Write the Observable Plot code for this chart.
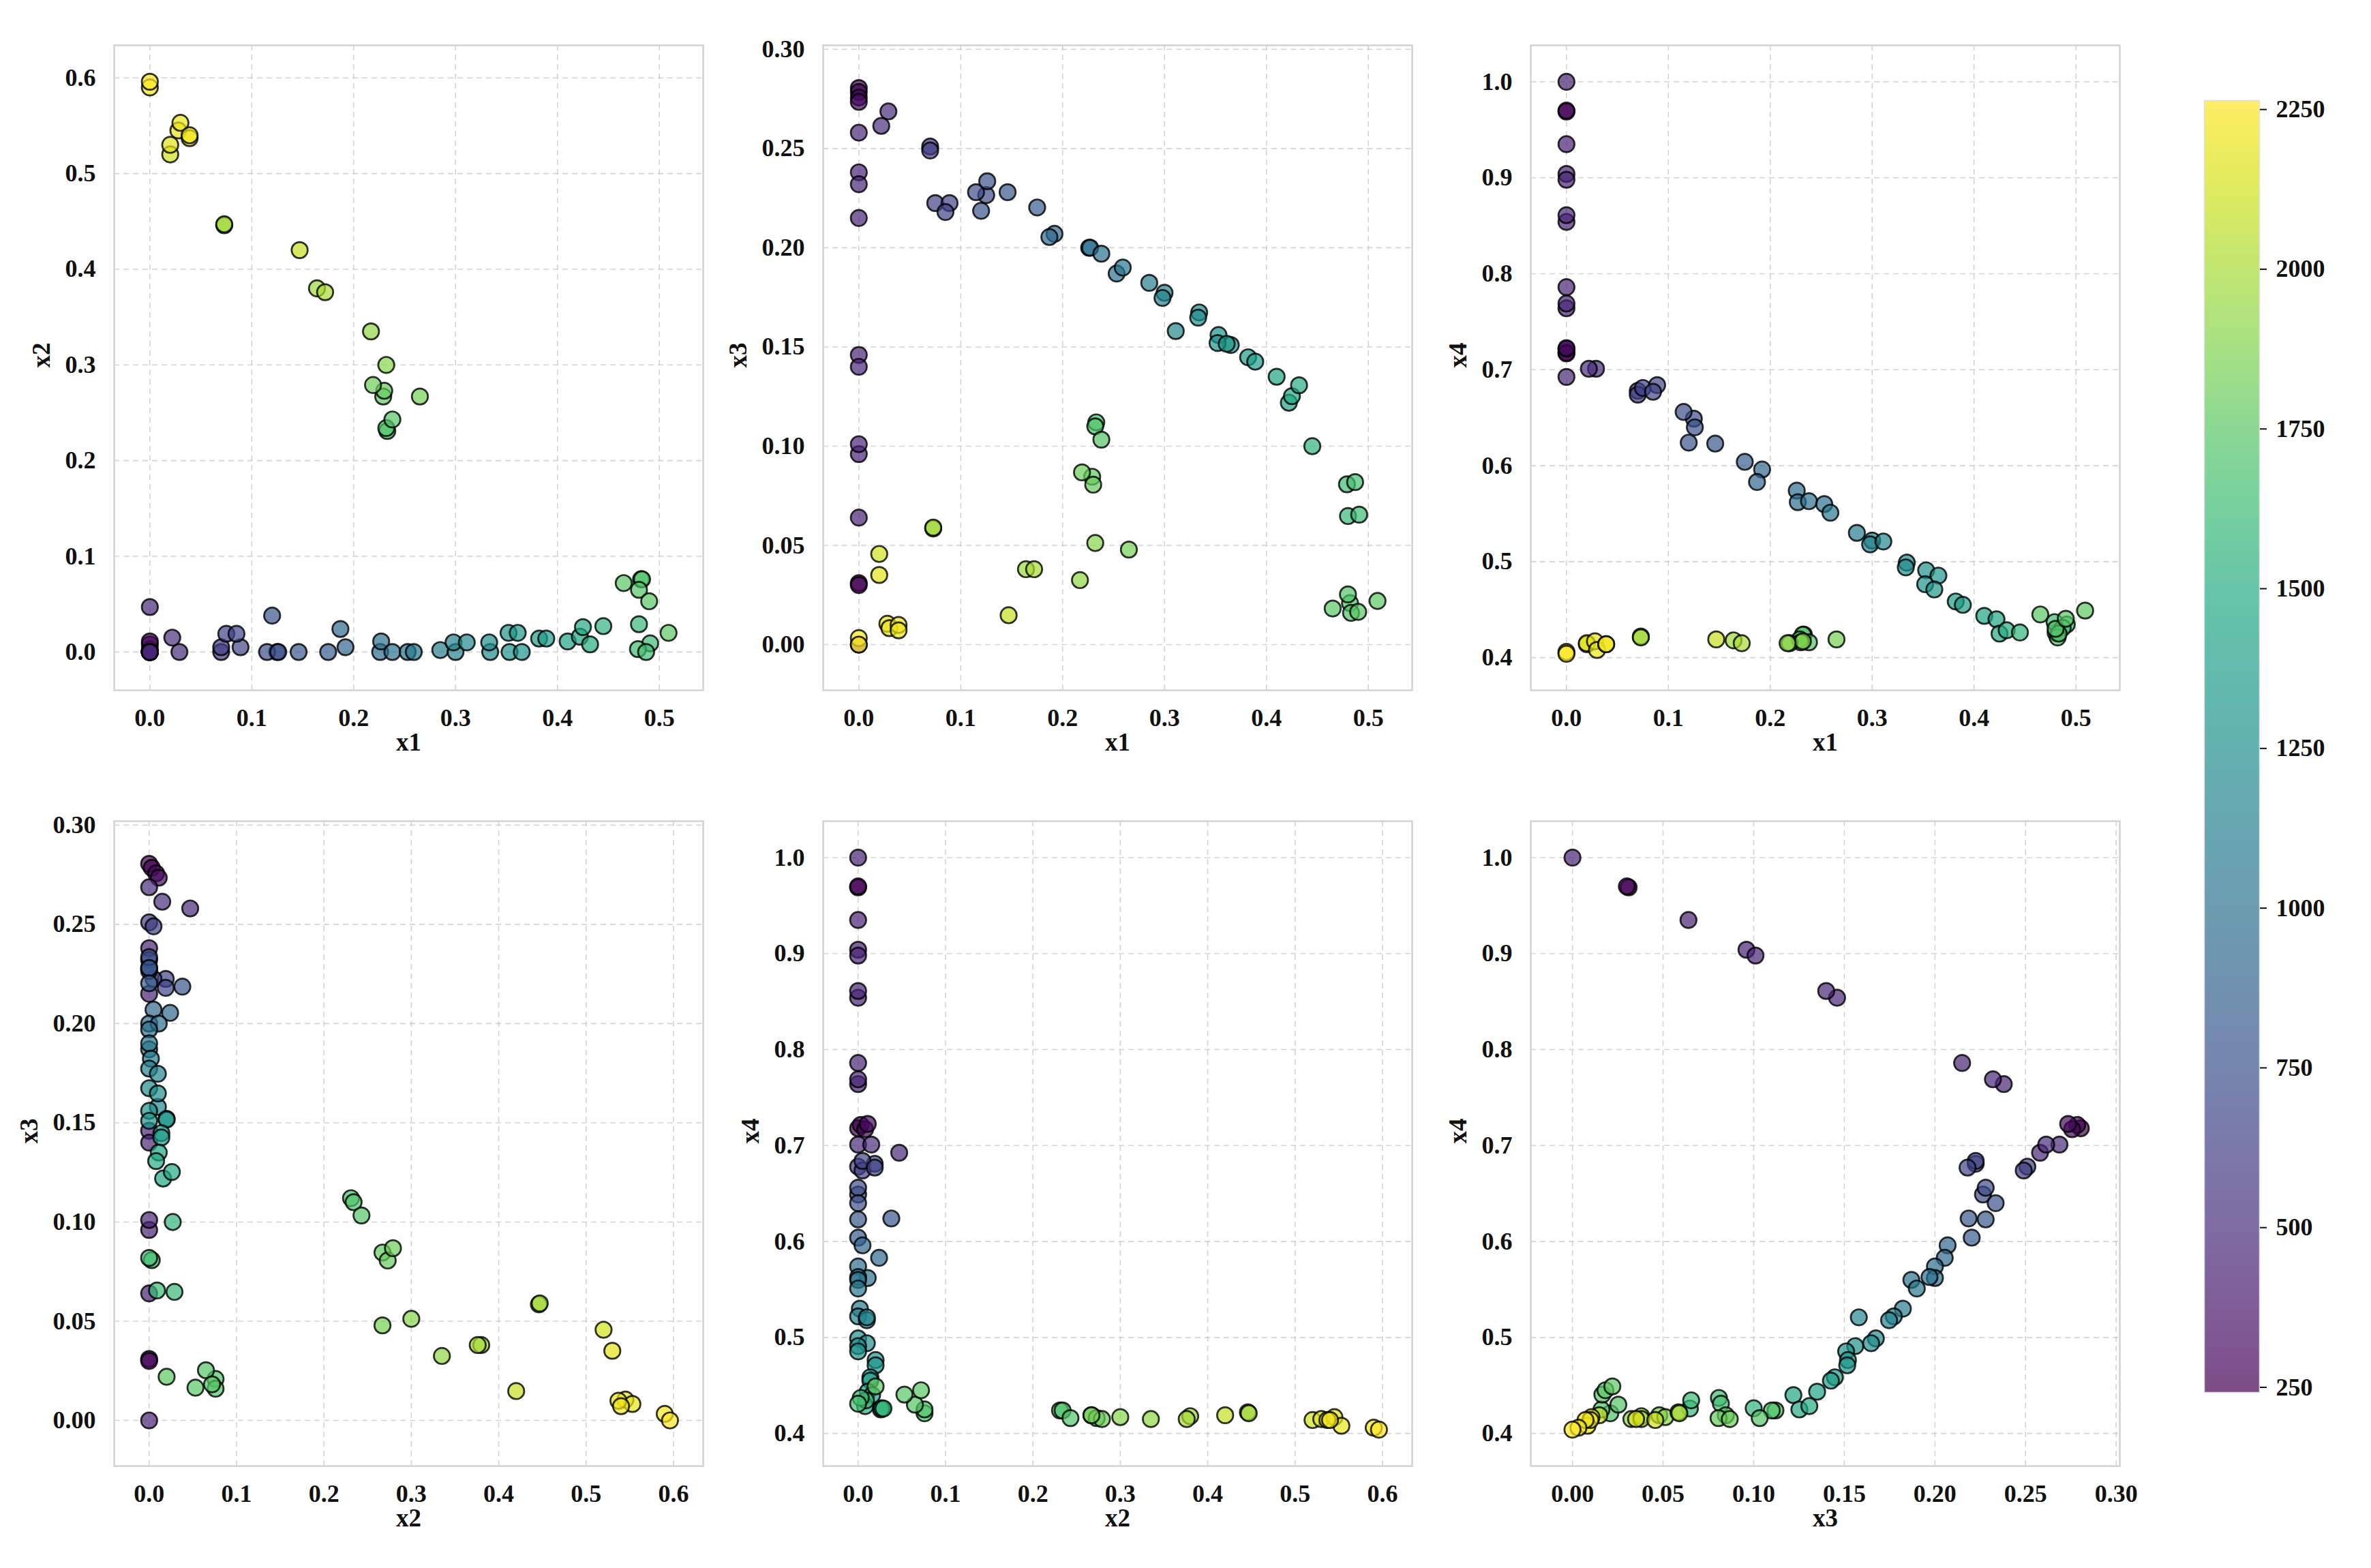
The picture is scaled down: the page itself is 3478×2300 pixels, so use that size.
<!DOCTYPE html>
<html><head><meta charset="utf-8">
<script src="https://cdn.jsdelivr.net/npm/d3@7"></script>
<script src="https://cdn.jsdelivr.net/npm/@observablehq/plot@0.6"></script>
<style>
html,body{margin:0;padding:0;background:#fff;}
#root{position:relative;width:3478px;height:2300px;overflow:hidden;}
.panel{position:absolute;}
</style></head><body><div id="root"></div>
<script>
// ---- data ----
const x1 = [0,0,0,0,0,0,0,0,0,0,0,0,0,0,0,0,0.029,0.022,0.070,0.070,0.075,0.089,0.085,0.125,0.115,0.126,0.120,0.146,0.175,0.192,0.187,0.226,0.227,0.238,0.253,0.259,0.285,0.300,0.298,0.311,0.334,0.333,0.353,0.365,0.352,0.361,0.382,0.389,0.410,0.422,0.425,0.432,0.445,0.480,0.491,0.479,0.487,0.233,0.482,0.232,0.483,0.238,0.480,0.490,0.465,0.509,0.229,0.230,0.219,0.265,0.232,0.217,0.164,0.073,0.073,0.172,0.147,0.020,0.020,0.028,0.030,0.039,0.039,0.000,0.000];
const x2 = [0,0,0.003,0,0.008,0.011,0,0,0,0,0,0,0,0,0,0.047,0,0.015,0,0.005,0.019,0.005,0.019,0,0,0,0.038,0,0,0.005,0.024,0,0.011,0,0,0,0.002,0,0.010,0.010,0,0.010,0,0,0.020,0.020,0.014,0.014,0.011,0.016,0.026,0.008,0.027,0.029,0.009,0.003,0,0.231,0.076,0.234,0.076,0.243,0.065,0.053,0.072,0.020,0.267,0.273,0.279,0.267,0.300,0.335,0.380,0.446,0.447,0.376,0.420,0.520,0.530,0.545,0.553,0.537,0.540,0.590,0.596];
const x3 = [0.2805,0.031,0.2785,0.030,0.2757,0.2735,0.064,0.215,0.000,0.096,0.146,0.238,0.101,0.140,0.232,0.258,0.2687,0.2614,0.251,0.249,0.2225,0.2225,0.218,0.2265,0.228,0.2335,0.2186,0.228,0.2203,0.207,0.2054,0.200,0.200,0.197,0.187,0.190,0.1823,0.1773,0.1747,0.158,0.1674,0.1648,0.156,0.151,0.152,0.1516,0.1448,0.1426,0.135,0.1219,0.1252,0.1307,0.100,0.0648,0.0655,0.0808,0.0819,0.112,0.0209,0.110,0.016,0.1033,0.0253,0.0165,0.0182,0.022,0.0846,0.0806,0.0868,0.0479,0.0512,0.0325,0.038,0.0585,0.0590,0.038,0.0148,0.0457,0.0351,0.0105,0.0083,0.0099,0.0072,0.0033,0.000];
const x4 = [0.718,0.969,0.7215,0.970,0.717,0.7225,0.935,0.786,1.000,0.904,0.854,0.764,0.898,0.861,0.769,0.6925,0.701,0.701,0.678,0.674,0.681,0.684,0.677,0.649,0.656,0.640,0.624,0.623,0.604,0.596,0.583,0.574,0.562,0.563,0.560,0.551,0.530,0.522,0.518,0.521,0.499,0.494,0.491,0.4855,0.4765,0.471,0.4585,0.455,0.4435,0.440,0.425,0.4285,0.4262,0.426,0.4345,0.437,0.431,0.424,0.421,0.424,0.425,0.416,0.430,0.4405,0.445,0.449,0.419,0.416,0.415,0.419,0.417,0.415,0.418,0.422,0.421,0.415,0.419,0.414,0.415,0.417,0.408,0.414,0.414,0.406,0.404];
const iteration = [242,250,255,262,270,300,430,440,440,445,450,450,455,460,460,470,490,500,600,610,640,650,660,700,720,740,780,800,820,900,920,960,980,1000,1020,1040,1100,1140,1150,1180,1220,1240,1270,1290,1300,1310,1360,1370,1420,1440,1460,1500,1560,1600,1620,1640,1660,1690,1700,1705,1710,1720,1725,1735,1745,1760,1780,1790,1810,1840,1900,1920,1960,1975,1985,2000,2090,2120,2170,2190,2200,2210,2220,2240,2264];

const ticksX1 = [0, 0.1, 0.2, 0.3, 0.4, 0.5];
const ticksX2 = [0, 0.1, 0.2, 0.3, 0.4, 0.5, 0.6];
const ticksX3 = [0, 0.05, 0.10, 0.15, 0.20, 0.25, 0.30];
const ticksX4 = [0.4, 0.5, 0.6, 0.7, 0.8, 0.9, 1.0];
const colorTicks = [250, 500, 750, 1000, 1250, 1500, 1750, 2000, 2250];

// ---- build table ----
const data = x1.map((v, i) => ({x1: v, x2: x2[i], x3: x3[i], x4: x4[i], c: iteration[i]}));

const vars = {
  x1: {domain: [-0.035, 0.543], ticks: ticksX1, fmt: d3.format(".1f")},
  x2: {domain: [-0.040, 0.634], ticks: ticksX2, fmt: d3.format(".1f")},
  x3: {domain: [-0.023, 0.302], ticks: ticksX3, fmt: d3.format(".2f")},
  x4: {domain: [0.366, 1.038], ticks: ticksX4, fmt: d3.format(".1f")}
};
const colorDomain = [242, 2264];

const FONT = '"Liberation Serif","Times New Roman",serif';
const FW = 864, FH = 946;
const ML = 180, MR = 10, MT = 10, MB = 130;
const cols = [167, 1207, 2244.5];
const rows = [66, 1204];
const pairs = [["x1","x2"],["x1","x3"],["x1","x4"],["x2","x3"],["x2","x4"],["x3","x4"]];

const root = document.getElementById("root");

pairs.forEach(([xv, yv], k) => {
  const left = cols[k % 3], top = rows[Math.floor(k / 3)];
  const X = vars[xv], Y = vars[yv];
  const chart = Plot.plot({
    width: FW + ML + MR, height: FH + MT + MB,
    marginLeft: ML, marginRight: MR, marginTop: MT, marginBottom: MB,
    style: {fontFamily: FONT, fontSize: "36px", fontWeight: "bold", color: "#111", background: "transparent", overflow: "visible"},
    x: {domain: X.domain},
    y: {domain: Y.domain},
    color: {type: "linear", scheme: "viridis", domain: colorDomain},
    marks: [
      Plot.gridX({ticks: X.ticks, stroke: "#c8c8c8", strokeOpacity: 0.8, strokeWidth: 1.6, strokeDasharray: "8,6"}),
      Plot.gridY({ticks: Y.ticks, stroke: "#c8c8c8", strokeOpacity: 0.8, strokeWidth: 1.6, strokeDasharray: "8,6"}),
      Plot.frame({stroke: "#d2d2d2", strokeWidth: 2.5}),
      Plot.axisX({ticks: X.ticks, tickFormat: X.fmt, tickSize: 0, tickPadding: 27, label: null, fontSize: 36, fontWeight: "bold"}),
      Plot.axisY({ticks: Y.ticks, tickFormat: Y.fmt, tickSize: 0, tickPadding: 27, label: null, fontSize: 36, fontWeight: "bold"}),
      Plot.dot(data, {x: xv, y: yv, fill: "c", r: 11.8, fillOpacity: 0.7, stroke: "#000", strokeOpacity: 0.8, strokeWidth: 2.7}),
      Plot.text([xv], {text: d => d, frameAnchor: "bottom", dy: 88, fontSize: 37, fontWeight: "bold", fill: "#111"}),
      Plot.text([yv], {text: d => d, frameAnchor: "left", dx: yv === "x3" ? -124 : -106, rotate: -90, fontSize: 37, fontWeight: "bold", fill: "#111"})
    ]
  });
  chart.classList.add("panel");
  chart.style.left = (left - ML) + "px";
  chart.style.top = (top - MT) + "px";
  root.appendChild(chart);
});

// ---- colorbar ----
const CBL = 3233, CBT = 146.7, CBW = 81, CBH = 1895;
const cbML = 5, cbMR = 140, cbMT = 5, cbMB = 5;
const steps = d3.range(colorDomain[0], colorDomain[1], 4);
const cbar = Plot.plot({
  width: CBW + cbML + cbMR, height: CBH + cbMT + cbMB,
  marginLeft: cbML, marginRight: cbMR, marginTop: cbMT, marginBottom: cbMB,
  style: {fontFamily: FONT, fontSize: "36px", fontWeight: "bold", color: "#111", background: "transparent", overflow: "visible"},
  x: {domain: [0, 1], axis: null},
  y: {domain: colorDomain},
  color: {type: "linear", scheme: "viridis", domain: colorDomain},
  marks: [
    Plot.rect(steps, {x1: () => 0, x2: () => 1, y1: d => d, y2: d => Math.min(d + 4, colorDomain[1]), fill: d => d, fillOpacity: 0.7, shapeRendering: "crispEdges"}),
    Plot.frame({stroke: "#e0e0e0", strokeWidth: 1.5}),
    Plot.axisY({anchor: "right", ticks: colorTicks, tickFormat: d => String(d), tickSize: 10, tickPadding: 14, label: null, fontSize: 36, fontWeight: "bold", strokeWidth: 2})
  ]
});
cbar.classList.add("panel");
cbar.style.left = (CBL - cbML) + "px";
cbar.style.top = (CBT - cbMT) + "px";
root.appendChild(cbar);
</script>
</body></html>
